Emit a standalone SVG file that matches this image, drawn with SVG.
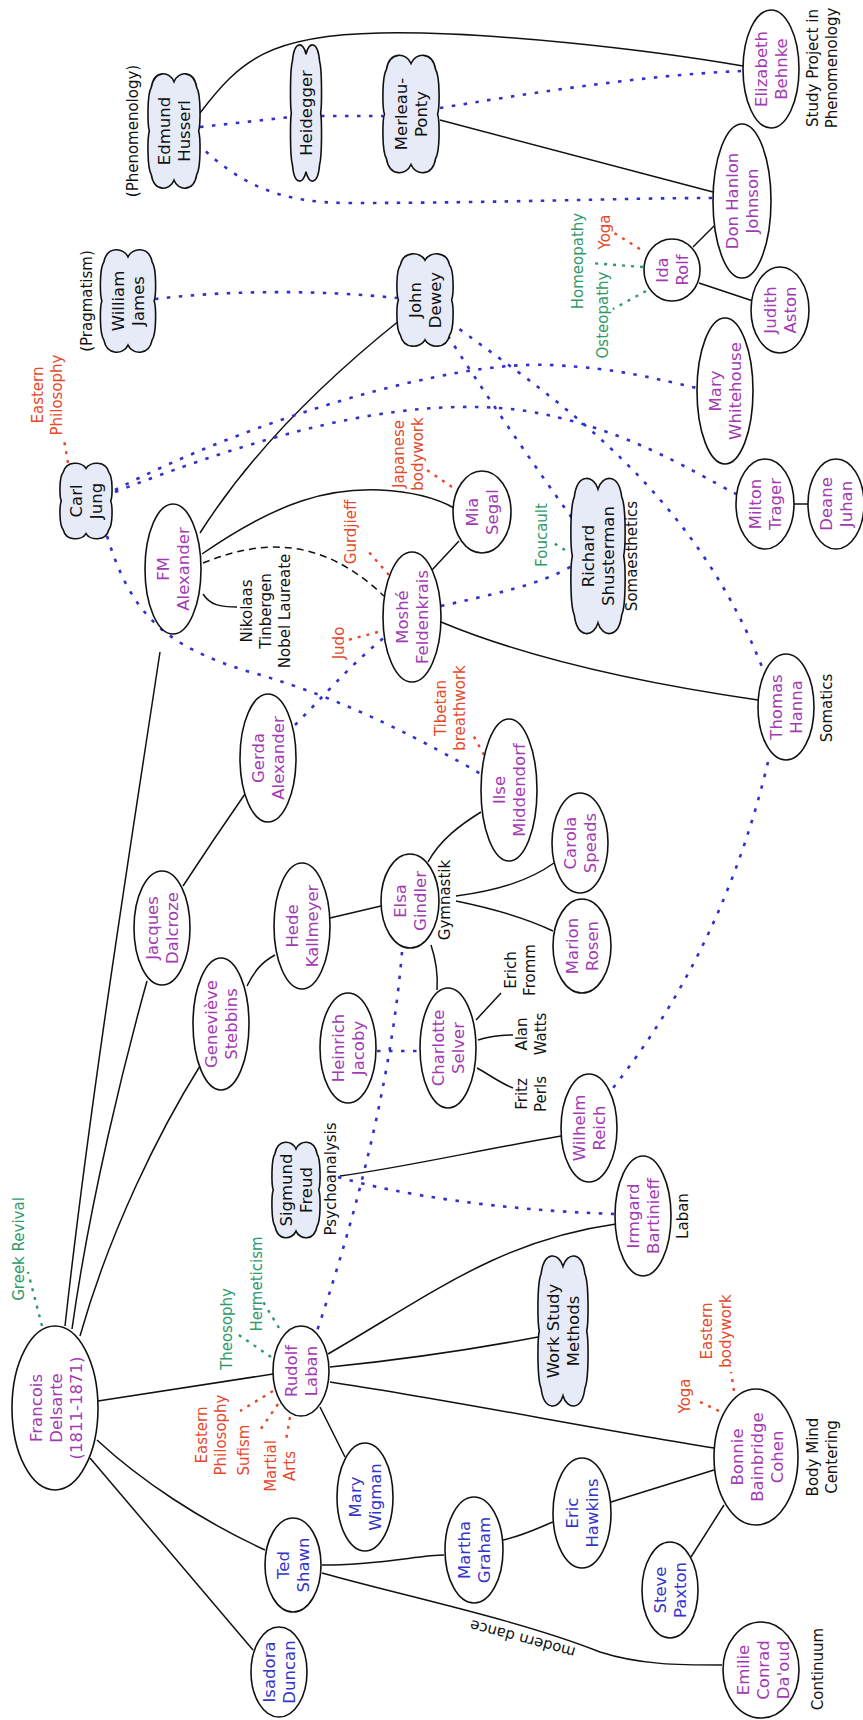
<svg xmlns="http://www.w3.org/2000/svg" width="863" height="1720" viewBox="0 0 863 1720">
<style>
text{font-family:"DejaVu Sans","Liberation Sans",sans-serif;dominant-baseline:central;text-anchor:middle}
tspan{dominant-baseline:central}
.n{font-size:16.5px;fill:#a23bb3}
.b{font-size:16.5px;fill:#3434c8}
.k{font-size:16.5px;fill:#111}
.a{font-size:15px;fill:#111}
.r{font-size:15px;fill:#e4492c}
.g{font-size:15px;fill:#2f9a68}
ellipse{fill:#fff;stroke:#111;stroke-width:1.6}
.cloud{fill:#e6ebf7;stroke:#111;stroke-width:1.6}
.s{fill:none;stroke:#111;stroke-width:1.5}
.d{fill:none;stroke:#111;stroke-width:1.5;stroke-dasharray:7 5}
.bl{fill:none;stroke:#3030cc;stroke-width:2.6;stroke-dasharray:3.5 8.5}
.rd{fill:none;stroke:#e4492c;stroke-width:2.4;stroke-dasharray:3 6}
.gd{fill:none;stroke:#2f9a68;stroke-width:2.4;stroke-dasharray:3 6}
</style>
<defs>
<path id="cl" vector-effect="non-scaling-stroke" d="M0,-0.84 C0.15,-1.02 0.75,-1.05 0.86,-0.74 C1.02,-0.62 1,-0.1 0.93,0 C1,0.1 1.02,0.62 0.86,0.74 C0.75,1.05 0.15,1.02 0,0.84 C-0.15,1.02 -0.75,1.05 -0.86,0.74 C-1.02,0.62 -1,0.1 -0.93,0 C-1,-0.1 -1.02,-0.62 -0.86,-0.74 C-0.75,-1.05 -0.15,-1.02 0,-0.84 Z"/>
</defs>
<rect width="863" height="1720" fill="#fff"/>

<g id="connectors">
<!-- solid links -->
<path class="s" d="M200,113 C240,60 270,35 380,33 S650,50 743,66"/>
<path class="s" d="M440,120 L713,192"/>
<path class="s" d="M693,247 L714,226"/>
<path class="s" d="M699,283 L753,301"/>
<path class="s" d="M794,504 L808,504"/>
<path class="s" d="M200,533 C240,470 300,400 400,320"/>
<path class="s" d="M202,554 C280,500 330,488 380,490 C420,492 440,500 454,508"/>
<path class="d" d="M203,563 C260,540 320,535 384,596"/>
<path class="s" d="M203,594 C210,605 220,607 237,607"/>
<path class="s" d="M160,652 C130,850 90,1100 65,1326"/>
<path class="s" d="M147,981 C125,1060 90,1200 72,1329"/>
<path class="s" d="M200,1066 C160,1130 110,1230 80,1336"/>
<path class="s" d="M98,1401 L273,1374"/>
<path class="s" d="M97,1440 C140,1480 200,1520 265,1550"/>
<path class="s" d="M90,1458 L253,1650"/>
<path class="s" d="M322,1565 C380,1565 420,1555 444,1555"/>
<path class="s" d="M322,1573 C400,1595 520,1620 600,1652 C640,1665 680,1665 722,1665"/>
<path class="s" d="M503,1540 C525,1535 540,1527 553,1522"/>
<path class="s" d="M611,1502 L714,1470"/>
<path class="s" d="M691,1557 L724,1505"/>
<path class="s" d="M330,1382 C450,1400 600,1430 714,1448"/>
<path class="s" d="M330,1367 C400,1360 480,1348 538,1337"/>
<path class="s" d="M328,1354 C430,1295 500,1240 616,1224"/>
<path class="s" d="M320,1407 L345,1457"/>
<path class="s" d="M340,1176 C400,1168 480,1150 561,1136"/>
<path class="s" d="M330,918 L381,906"/>
<path class="s" d="M247,986 C255,970 262,962 275,955"/>
<path class="s" d="M245,794 C220,830 200,860 183,886"/>
<path class="s" d="M428,862 C440,840 460,825 481,812"/>
<path class="s" d="M456,896 C500,890 530,880 554,863"/>
<path class="s" d="M456,901 C500,910 530,920 553,931"/>
<path class="s" d="M431,945 C436,960 438,975 437,990"/>
<path class="s" d="M476,1020 L501,993"/>
<path class="s" d="M478,1040 C490,1036 500,1035 513,1035"/>
<path class="s" d="M477,1068 C490,1075 500,1083 513,1088"/>
<path class="s" d="M459,541 L432,570"/>
<path class="s" d="M441,622 C520,655 620,680 758,700"/>
<!-- influence links -->
<path class="bl" d="M200,127 L291,117"/>
<path class="bl" d="M321,116 L383,116"/>
<path class="bl" d="M440,108 C520,95 640,75 743,71"/>
<path class="bl" d="M197,143 C240,185 280,203 350,203 C500,203 620,198 713,198"/>
<path class="bl" d="M155,299 C230,290 320,290 397,298"/>
<path class="bl" d="M115,490 C250,420 450,360 550,365 C620,368 660,380 697,388"/>
<path class="bl" d="M115,492 C300,420 420,398 520,410 C620,425 690,470 736,494"/>
<path class="bl" d="M450,322 C540,390 690,480 764,672"/>
<path class="bl" d="M448,336 C480,386 530,460 572,518"/>
<path class="bl" d="M441,606 C490,595 540,585 572,566"/>
<path class="bl" d="M107,536 C130,610 160,645 250,672 C350,700 430,745 481,774"/>
<path class="bl" d="M295,725 C320,700 350,665 386,636"/>
<path class="bl" d="M768,762 C740,880 690,990 613,1088"/>
<path class="bl" d="M377,1051 L420,1051"/>
<path class="bl" d="M402,952 Q388,1120 317,1331"/>
<path class="bl" d="M338,1177 C400,1195 500,1210 614,1214"/>
<!-- sources -->
<path class="rd" d="M68,463 L64,440"/>
<path class="rd" d="M452,487 L424,468"/>
<path class="rd" d="M389,575 L367,550"/>
<path class="rd" d="M378,632 L348,640"/>
<path class="rd" d="M484,755 L472,733"/>
<path class="rd" d="M640,249 L614,233"/>
<path class="rd" d="M273,1391 L240,1411"/>
<path class="rd" d="M278,1404 L258,1433"/>
<path class="rd" d="M290,1417 L286,1440"/>
<path class="rd" d="M719,1411 L696,1400"/>
<path class="rd" d="M734,1391 L731,1372"/>
<path class="gd" d="M643,267 L590,263"/>
<path class="gd" d="M646,291 L613,309"/>
<path class="gd" d="M565,550 L552,542"/>
<path class="gd" d="M42,1326 L28,1272"/>
<path class="gd" d="M271,1357 L236,1333"/>
<path class="gd" d="M279,1328 L262,1300"/>
</g>

<!-- philosophers (clouds) -->
<g id="husserl"><use href="#cl" class="cloud" transform="translate(174,131) scale(26.5,58.7)"/><text class="k" transform="translate(174,131) rotate(-90)"><tspan x="0" y="-10">Edmund</tspan><tspan x="0" y="10">Husserl</tspan></text></g>
<g id="heidegger"><use href="#cl" class="cloud" transform="translate(306,113) scale(15.8,69.9)"/><text class="k" transform="translate(306,113) rotate(-90)">Heidegger</text></g>
<g id="merleau-ponty"><use href="#cl" class="cloud" transform="translate(411,114) scale(28.6,60.2)"/><text class="k" transform="translate(411,114) rotate(-90)"><tspan x="0" y="-10">Merleau-</tspan><tspan x="0" y="10">Ponty</tspan></text></g>
<g id="james"><use href="#cl" class="cloud" transform="translate(128,301) scale(28.1,52.6)"/><text class="k" transform="translate(128,301) rotate(-90)"><tspan x="0" y="-10">William</tspan><tspan x="0" y="10">James</tspan></text></g>
<g id="dewey"><use href="#cl" class="cloud" transform="translate(425,300) scale(28.6,47.4)"/><text class="k" transform="translate(425,300) rotate(-90)"><tspan x="0" y="-10">John</tspan><tspan x="0" y="10">Dewey</tspan></text></g>
<g id="jung"><use href="#cl" class="cloud" transform="translate(86,501) scale(26.5,38.8)"/><text class="k" transform="translate(86,501) rotate(-90)"><tspan x="0" y="-10">Carl</tspan><tspan x="0" y="10">Jung</tspan></text></g>
<g id="shusterman"><use href="#cl" class="cloud" transform="translate(598,556) scale(27.6,79.6)"/><text class="k" transform="translate(598,556) rotate(-90)"><tspan x="0" y="-10">Richard</tspan><tspan x="0" y="10">Shusterman</tspan></text></g>
<g id="freud"><use href="#cl" class="cloud" transform="translate(296,1190) scale(24.5,49)"/><text class="k" transform="translate(296,1190) rotate(-90)"><tspan x="0" y="-10">Sigmund</tspan><tspan x="0" y="10">Freud</tspan></text></g>
<g id="work-study"><use href="#cl" class="cloud" transform="translate(563,1331) scale(25.5,77)"/><text class="k" transform="translate(563,1331) rotate(-90)"><tspan x="0" y="-10">Work Study</tspan><tspan x="0" y="10">Methods</tspan></text></g>

<!-- practitioners -->
<g id="behnke"><ellipse cx="771" cy="69" rx="28" ry="59"/><text class="n" transform="translate(771,69) rotate(-90)"><tspan x="0" y="-10">Elizabeth</tspan><tspan x="0" y="10">Behnke</tspan></text></g>
<g id="johnson"><ellipse cx="742" cy="201" rx="29" ry="77"/><text class="n" transform="translate(742,201) rotate(-90)"><tspan x="0" y="-10">Don Hanlon</tspan><tspan x="0" y="10">Johnson</tspan></text></g>
<g id="rolf"><ellipse cx="672" cy="270" rx="28" ry="31"/><text class="n" transform="translate(672,270) rotate(-90)"><tspan x="0" y="-10">Ida</tspan><tspan x="0" y="10">Rolf</tspan></text></g>
<g id="aston"><ellipse cx="780" cy="310" rx="29" ry="43"/><text class="n" transform="translate(780,310) rotate(-90)"><tspan x="0" y="-10">Judith</tspan><tspan x="0" y="10">Aston</tspan></text></g>
<g id="whitehouse"><ellipse cx="725" cy="391" rx="28" ry="73"/><text class="n" transform="translate(725,391) rotate(-90)"><tspan x="0" y="-10">Mary</tspan><tspan x="0" y="10">Whitehouse</tspan></text></g>
<g id="trager"><ellipse cx="765" cy="504" rx="29" ry="45"/><text class="n" transform="translate(765,504) rotate(-90)"><tspan x="0" y="-10">Milton</tspan><tspan x="0" y="10">Trager</tspan></text></g>
<g id="juhan"><ellipse cx="836" cy="504" rx="28" ry="45"/><text class="n" transform="translate(836,504) rotate(-90)"><tspan x="0" y="-10">Deane</tspan><tspan x="0" y="10">Juhan</tspan></text></g>
<g id="segal"><ellipse cx="482" cy="512" rx="29" ry="41"/><text class="n" transform="translate(482,512) rotate(-90)"><tspan x="0" y="-10">Mia</tspan><tspan x="0" y="10">Segal</tspan></text></g>
<g id="fm-alexander"><ellipse cx="173" cy="569" rx="28" ry="65"/><text class="n" transform="translate(173,569) rotate(-90)"><tspan x="0" y="-10">FM</tspan><tspan x="0" y="10">Alexander</tspan></text></g>
<g id="feldenkrais"><ellipse cx="412" cy="617" rx="29" ry="65"/><text class="n" transform="translate(412,617) rotate(-90)"><tspan x="0" y="-10">Moshé</tspan><tspan x="0" y="10">Feldenkrais</tspan></text></g>
<g id="hanna"><ellipse cx="786" cy="707" rx="28" ry="53"/><text class="n" transform="translate(786,707) rotate(-90)"><tspan x="0" y="-10">Thomas</tspan><tspan x="0" y="10">Hanna</tspan></text></g>
<g id="gerda-alexander"><ellipse cx="268" cy="758" rx="28" ry="64"/><text class="n" transform="translate(268,758) rotate(-90)"><tspan x="0" y="-10">Gerda</tspan><tspan x="0" y="10">Alexander</tspan></text></g>
<g id="middendorf"><ellipse cx="509" cy="790" rx="28" ry="71"/><text class="n" transform="translate(509,790) rotate(-90)"><tspan x="0" y="-10">Ilse</tspan><tspan x="0" y="10">Middendorf</tspan></text></g>
<g id="speads"><ellipse cx="580" cy="843" rx="28" ry="50"/><text class="n" transform="translate(580,843) rotate(-90)"><tspan x="0" y="-10">Carola</tspan><tspan x="0" y="10">Speads</tspan></text></g>
<g id="gindler"><ellipse cx="410" cy="901" rx="29" ry="47"/><text class="n" transform="translate(410,901) rotate(-90)"><tspan x="0" y="-10">Elsa</tspan><tspan x="0" y="10">Gindler</tspan></text></g>
<g id="dalcroze"><ellipse cx="162" cy="928" rx="28" ry="57"/><text class="n" transform="translate(162,928) rotate(-90)"><tspan x="0" y="-10">Jacques</tspan><tspan x="0" y="10">Dalcroze</tspan></text></g>
<g id="kallmeyer"><ellipse cx="302" cy="926" rx="28" ry="63"/><text class="n" transform="translate(302,926) rotate(-90)"><tspan x="0" y="-10">Hede</tspan><tspan x="0" y="10">Kallmeyer</tspan></text></g>
<g id="rosen"><ellipse cx="582" cy="946" rx="29" ry="47"/><text class="n" transform="translate(582,946) rotate(-90)"><tspan x="0" y="-10">Marion</tspan><tspan x="0" y="10">Rosen</tspan></text></g>
<g id="stebbins"><ellipse cx="221" cy="1024" rx="28" ry="66"/><text class="n" transform="translate(221,1024) rotate(-90)"><tspan x="0" y="-10">Geneviève</tspan><tspan x="0" y="10">Stebbins</tspan></text></g>
<g id="jacoby"><ellipse cx="348" cy="1048" rx="28" ry="55"/><text class="n" transform="translate(348,1048) rotate(-90)"><tspan x="0" y="-10">Heinrich</tspan><tspan x="0" y="10">Jacoby</tspan></text></g>
<g id="selver"><ellipse cx="448" cy="1048" rx="28" ry="60"/><text class="n" transform="translate(448,1048) rotate(-90)"><tspan x="0" y="-10">Charlotte</tspan><tspan x="0" y="10">Selver</tspan></text></g>
<g id="reich"><ellipse cx="589" cy="1128" rx="28" ry="54"/><text class="n" transform="translate(589,1128) rotate(-90)"><tspan x="0" y="-10">Wilhelm</tspan><tspan x="0" y="10">Reich</tspan></text></g>
<g id="bartinieff"><ellipse cx="643" cy="1216" rx="28" ry="60"/><text class="n" transform="translate(643,1216) rotate(-90)"><tspan x="0" y="-10">Irmgard</tspan><tspan x="0" y="10">Bartinieff</tspan></text></g>
<g id="laban"><ellipse cx="301" cy="1371" rx="28" ry="45"/><text class="n" transform="translate(301,1371) rotate(-90)"><tspan x="0" y="-10">Rudolf</tspan><tspan x="0" y="10">Laban</tspan></text></g>
<g id="delsarte"><ellipse cx="55" cy="1408" rx="43" ry="82"/><text class="n" transform="translate(56,1408) rotate(-90)"><tspan x="0" y="-20">Francois</tspan><tspan x="0" y="0">Delsarte</tspan><tspan x="0" y="20">(1811-1871)</tspan></text></g>
<g id="cohen"><ellipse cx="756" cy="1457" rx="42" ry="68"/><text class="n" transform="translate(757,1457) rotate(-90)"><tspan x="0" y="-20">Bonnie</tspan><tspan x="0" y="0">Bainbridge</tspan><tspan x="0" y="20">Cohen</tspan></text></g>
<g id="wigman"><ellipse cx="365" cy="1497" rx="28" ry="54"/><text class="b" transform="translate(365,1497) rotate(-90)"><tspan x="0" y="-10">Mary</tspan><tspan x="0" y="10">Wigman</tspan></text></g>
<g id="hawkins"><ellipse cx="582" cy="1513" rx="29" ry="55"/><text class="b" transform="translate(582,1513) rotate(-90)"><tspan x="0" y="-10">Eric</tspan><tspan x="0" y="10">Hawkins</tspan></text></g>
<g id="graham"><ellipse cx="474" cy="1550" rx="29" ry="53"/><text class="b" transform="translate(474,1550) rotate(-90)"><tspan x="0" y="-10">Martha</tspan><tspan x="0" y="10">Graham</tspan></text></g>
<g id="shawn"><ellipse cx="293" cy="1565" rx="28" ry="47"/><text class="b" transform="translate(293,1565) rotate(-90)"><tspan x="0" y="-10">Ted</tspan><tspan x="0" y="10">Shawn</tspan></text></g>
<g id="paxton"><ellipse cx="670" cy="1590" rx="28" ry="48"/><text class="b" transform="translate(670,1590) rotate(-90)"><tspan x="0" y="-10">Steve</tspan><tspan x="0" y="10">Paxton</tspan></text></g>
<g id="duncan"><ellipse cx="279" cy="1672" rx="28" ry="45"/><text class="b" transform="translate(279,1672) rotate(-90)"><tspan x="0" y="-10">Isadora</tspan><tspan x="0" y="10">Duncan</tspan></text></g>
<g id="conrad"><ellipse cx="761" cy="1670" rx="38" ry="48"/><text class="n" transform="translate(763,1670) rotate(-90)"><tspan x="0" y="-20">Emilie</tspan><tspan x="0" y="0">Conrad</tspan><tspan x="0" y="20">Da'oud</tspan></text></g>

<!-- annotations -->
<g id="notes">
<text class="a" transform="translate(133,131) rotate(-90)">(Phenomenology)</text>
<text class="a" transform="translate(87,301) rotate(-90)">(Pragmatism)</text>
<text class="a" transform="translate(822,68) rotate(-90)"><tspan x="0" y="-9.5">Study Project in</tspan><tspan x="0" y="9.5">Phenomenology</tspan></text>
<text class="a" transform="translate(632,556) rotate(-90)">Somaesthetics</text>
<text class="a" transform="translate(827,708) rotate(-90)">Somatics</text>
<text class="a" transform="translate(266,611) rotate(-90)"><tspan x="0" y="-19">Nikolaas</tspan><tspan x="0" y="0">Tinbergen</tspan><tspan x="0" y="19">Nobel Laureate</tspan></text>
<text class="a" transform="translate(445,900) rotate(-90)">Gymnastik</text>
<text class="a" transform="translate(520,970) rotate(-90)"><tspan x="0" y="-9.5">Erich</tspan><tspan x="0" y="9.5">Fromm</tspan></text>
<text class="a" transform="translate(531,1034) rotate(-90)"><tspan x="0" y="-9.5">Alan</tspan><tspan x="0" y="9.5">Watts</tspan></text>
<text class="a" transform="translate(531,1094) rotate(-90)"><tspan x="0" y="-9.5">Fritz</tspan><tspan x="0" y="9.5">Perls</tspan></text>
<text class="a" transform="translate(331,1179) rotate(-90)">Psychoanalysis</text>
<text class="a" transform="translate(683,1216) rotate(-90)">Laban</text>
<text class="a" transform="translate(822,1457) rotate(-90)"><tspan x="0" y="-9.5">Body Mind</tspan><tspan x="0" y="9.5">Centering</tspan></text>
<text class="a" transform="translate(818,1669) rotate(-90)">Continuum</text>
<text class="a" style="dominant-baseline:alphabetic" transform="translate(524,1634) rotate(195)">modern dance</text>
<text class="r" transform="translate(47,395) rotate(-90)"><tspan x="0" y="-9.5">Eastern</tspan><tspan x="0" y="9.5">Philosophy</tspan></text>
<text class="r" transform="translate(408,454) rotate(-90)"><tspan x="0" y="-9.5">Japanese</tspan><tspan x="0" y="9.5">bodywork</tspan></text>
<text class="r" transform="translate(351,532) rotate(-90)">Gurdjieff</text>
<text class="r" transform="translate(605,232) rotate(-90)">Yoga</text>
<text class="r" transform="translate(339,643) rotate(-90)">Judo</text>
<text class="r" transform="translate(450,708) rotate(-90)"><tspan x="0" y="-9.5">Tibetan</tspan><tspan x="0" y="9.5">breathwork</tspan></text>
<text class="r" transform="translate(211,1435) rotate(-90)"><tspan x="0" y="-9.5">Eastern</tspan><tspan x="0" y="9.5">Philosophy</tspan></text>
<text class="r" transform="translate(244,1450) rotate(-90)">Sufism</text>
<text class="r" transform="translate(280,1466) rotate(-90)"><tspan x="0" y="-9.5">Martial</tspan><tspan x="0" y="9.5">Arts</tspan></text>
<text class="r" transform="translate(685,1396) rotate(-90)">Yoga</text>
<text class="r" transform="translate(716,1331) rotate(-90)"><tspan x="0" y="-9.5">Eastern</tspan><tspan x="0" y="9.5">bodywork</tspan></text>
<text class="g" transform="translate(578,261) rotate(-90)">Homeopathy</text>
<text class="g" transform="translate(603,315) rotate(-90)">Osteopathy</text>
<text class="g" transform="translate(542,535) rotate(-90)">Foucault</text>
<text class="g" transform="translate(19,1249) rotate(-90)">Greek Revival</text>
<text class="g" transform="translate(227,1329) rotate(-90)">Theosophy</text>
<text class="g" transform="translate(257,1284) rotate(-90)">Hermeticism</text>
</g>
</svg>
